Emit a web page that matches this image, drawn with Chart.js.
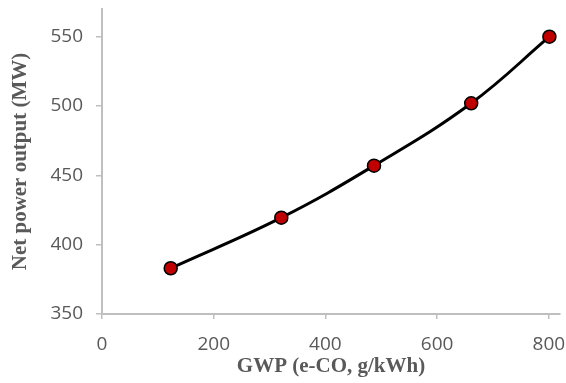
<!DOCTYPE html>
<html>
<head>
<meta charset="utf-8">
<script src="https://cdn.jsdelivr.net/npm/chart.js@4/dist/chart.umd.min.js"></script>
<style>
html,body{margin:0;padding:0;background:#fff;}
#wrap{width:566px;height:383px;position:relative;}
</style>
</head>
<body>
<div id="wrap"><canvas id="c" width="566" height="383"></canvas></div>
<script>
const gwp = [123, 321, 487, 661, 801];
const netPower = [383, 419.5, 457, 502, 550];
const xTickValues = [0, 200, 400, 600, 800];
const yTickValues = [350, 400, 450, 500, 550];
const xTitle = 'GWP (e-CO, g/kWh)';
const yTitle = 'Net power output (MW)';

const axisGrey = '#bfbfbf';
const textGrey = '#595959';

new Chart(document.getElementById('c'), {
  type: 'scatter',
  data: {
    datasets: [{
      data: gwp.map((x, i) => ({x: x, y: netPower[i]})),
      showLine: true,
      borderColor: '#000000',
      borderWidth: 3,
      tension: 0.4,
      pointRadius: 6.5,
      pointBackgroundColor: '#c00000',
      pointBorderColor: '#000000',
      pointBorderWidth: 1.5
    }]
  },
  options: {
    responsive: false,
    animation: false,
    devicePixelRatio: 1,
    layout: {autoPadding: false, padding: {top: 0, right: 0, left: 8, bottom: 0}},
    plugins: {legend: {display: false}, tooltip: {enabled: false}},
    scales: {
      x: {
        type: 'linear',
        min: 0, max: 820,
        afterBuildTicks: s => { s.ticks = xTickValues.map(v => ({value: v})); },
        afterFit: s => { s.height = 69; s.paddingRight = 6; s.paddingLeft = 0; },
        border: {display: true, color: axisGrey, width: 2},
        grid: {drawOnChartArea: false, drawTicks: true, tickLength: 5, color: axisGrey, lineWidth: 1.5},
        ticks: {color: textGrey, font: {family: 'Open Sans', size: 19}, padding: 14, maxRotation: 0},
        title: {display: true, text: xTitle, color: textGrey, font: {family: 'Liberation Serif', size: 21, weight: 'bold'}, padding: {top: 0, bottom: 4}}
      },
      y: {
        type: 'linear',
        min: 350, max: 570,
        afterBuildTicks: s => { s.ticks = yTickValues.map(v => ({value: v})); },
        afterFit: s => { s.width = 94; s.paddingTop = 9; s.paddingBottom = 0; },
        border: {display: true, color: axisGrey, width: 2},
        grid: {drawOnChartArea: false, drawTicks: true, tickLength: 6, color: axisGrey, lineWidth: 1.5},
        ticks: {color: textGrey, font: {family: 'Open Sans', size: 19}, padding: 13},
        title: {display: true, text: yTitle, color: textGrey, font: {family: 'Liberation Serif', size: 21, weight: 'bold'}, padding: {top: 0, bottom: 0}}
      }
    }
  }
});
</script>
</body>
</html>
